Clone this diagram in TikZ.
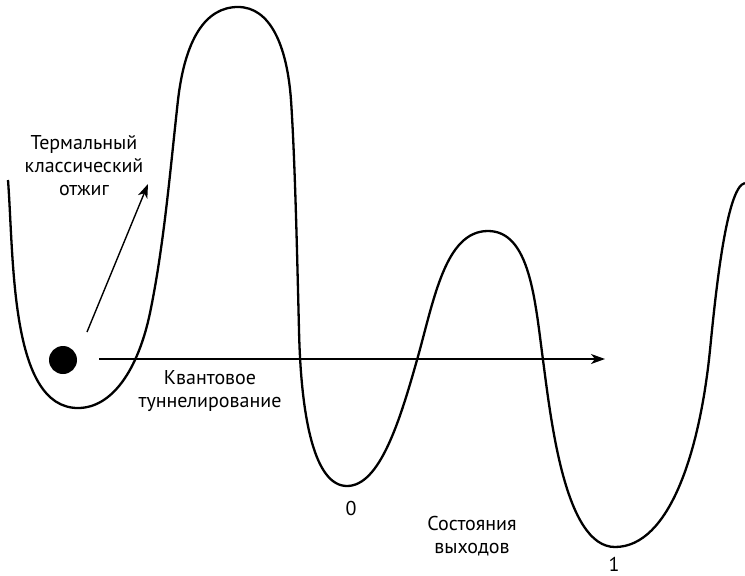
\documentclass[tikz,border=0pt]{standalone}
\usepackage{fontspec}
\setmainfont{PT Sans}
\usetikzlibrary{arrows.meta}
\tikzset{
	lbl/.style={align=center, font=\fontsize{20}{23}\selectfont, inner sep=0pt},
	ptr/.style={line width=1.4pt, -{Stealth[length=14pt,width=10pt,inset=4pt]}},
}
\begin{document}
\begin{tikzpicture}[x=1pt, y=-1pt]
		\useasboundingbox (0,0) rectangle (745,576);
		
		% Energy landscape
		\draw[line width=2.3pt, line join=round]
		(8,180) .. controls (14,260) and (10,408) .. (78,408)
		.. controls (112,408) and (138,370) .. (150,313)
		.. controls (164,245) and (170,172) .. (178,100)
		.. controls (185,40) and (205,7) .. (238,7)
		.. controls (270,7) and (287,45) .. (291,100)
		.. controls (295,160) and (297,250) .. (299,330)
		.. controls (301,420) and (315,486) .. (347,486)
		.. controls (380,486) and (400,420) .. (417,360)
		.. controls (434,300) and (445,231) .. (488,231)
		.. controls (530,231) and (535,300) .. (543,360)
		.. controls (551,420) and (565,547) .. (615,547)
		.. controls (670,547) and (700,450) .. (710,350)
		.. controls (715,300) and (726,186) .. (745,183);
		
		% Ball
		\node[circle, fill=black, minimum size=28pt, inner sep=0pt] (ball) at (63,360) {};
		
		% Arrows
		\coordinate (thermstart) at (87,332);
		\coordinate (thermend) at (148,184);
		\draw[ptr] (thermstart) -- (thermend);
		\coordinate (tunstart) at (99,359);
		\coordinate (tunend) at (605,359);
		\draw[ptr] (tunstart) -- (tunend);
		
		% Labels
		\node[lbl] (thermal) at (84,166) {Термальный\\классический\\отжиг};
		\node[lbl] (tunnel) at (210,391) {Квантовое\\туннелирование};
		\node[lbl] (states) at (472,536) {Состояния\\выходов};
		\node[lbl] (zero) at (351,508) {0};
		\node[lbl] (one) at (614,564) {1};
		
\end{tikzpicture}
\end{document}
